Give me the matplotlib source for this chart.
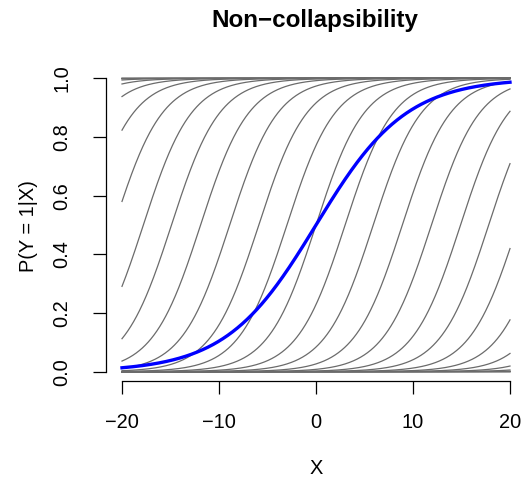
import numpy as np
import matplotlib
matplotlib.use('Agg')
import matplotlib.pyplot as plt

#conditional curves P(Y=1|X,Z): centre (where P=0.5) of each grey curve
gray_centers = [-44.6, -41.6, -38.6, -35.6, -32.7, -29.7, -26.7, -23.8, -20.8, -17.8,
                -14.9, -11.9, -8.9, -5.9, -3.0, 0.0, 3.0, 5.9, 8.9, 11.9,
                14.9, 17.8, 20.8, 23.8, 26.7, 29.7, 32.7, 35.6, 38.6, 41.6, 44.6]
gray_slope = 0.405
#marginal curve P(Y=1|X)
blue_center = 0.0
blue_slope = 0.215
x_range = [-20, 20]
xticks = [-20, -10, 0, 10, 20]
yticks = [0.0, 0.2, 0.4, 0.6, 0.8, 1.0]
ytick_labels = ['0.0', '0.2', '0.4', '0.6', '0.8', '1.0']

plt.rcParams['font.family'] = ['Liberation Sans', 'DejaVu Sans']
W, H = 523, 479
fig = plt.figure(figsize=(W/100.0, H/100.0), dpi=100)

#axes box in pixels (R style 4% padding around the data)
left, right, top, bottom = 106, 526, 69, 381
ax = fig.add_axes([left/W, 1-bottom/H, (right-left)/W, (bottom-top)/H])

x = np.linspace(x_range[0], x_range[1], 801)
for c in gray_centers:
    ax.plot(x, 1/(1+np.exp(-gray_slope*(x-c))), color='#6b6b6b', lw=0.9)
ax.plot(x, 1/(1+np.exp(-blue_slope*(x-blue_center))), color='#0000ff', lw=2.4)

ax.set_xlim(-21.65, 21.65)
ax.set_ylim(-0.0317, 1.0317)

ax.spines['top'].set_visible(False)
ax.spines['right'].set_visible(False)
ax.spines['left'].set_bounds(0, 1)
ax.spines['bottom'].set_bounds(-20, 20)
ax.spines['left'].set_linewidth(0.9)
ax.spines['bottom'].set_linewidth(0.9)

ax.set_xticks(xticks)
ax.set_xticklabels([str(t).replace('-', '\u2212') for t in xticks])
ax.set_yticks(yticks)
ax.set_yticklabels(ytick_labels, rotation=90, va='center')
ax.tick_params(axis='both', direction='out', length=9.4, width=0.9, labelsize=14.4)
ax.tick_params(axis='x', pad=13.5)
ax.tick_params(axis='y', pad=15.5)

fig.text(315/W, 1-27/H, 'Non\u2212collapsibility', ha='center', va='baseline',
         fontsize=17.4, fontweight='bold')
fig.text(316/W, 1-474.5/H, 'X', ha='center', va='baseline', fontsize=14.4)
fig.text(29/W, 1-226/H, 'P(Y = 1|X)', ha='center', va='center', rotation=90, fontsize=14.4)

plt.savefig('out.png', dpi=100)
